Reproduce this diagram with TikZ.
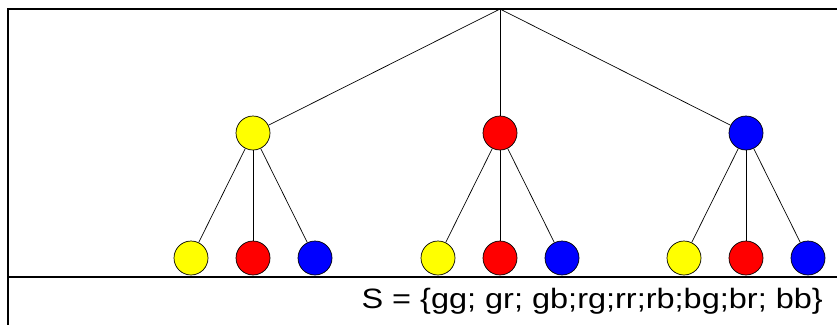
\documentclass[tikz,border=0pt]{standalone}
\usepackage{fontspec}
\newfontfamily\setfont{Liberation Sans}
\usepackage{tikz}
\usetikzlibrary{positioning}
\definecolor{colg}{HTML}{FFFF00}
\definecolor{colr}{HTML}{FF0000}
\definecolor{colb}{HTML}{0000FF}
\tikzset{
  ball/.style={circle, draw=black, line width=0.7pt, minimum size=34pt, inner sep=0pt},
  edge/.style={line width=0.7pt, black},
  frame/.style={line width=1.4pt, black},
  lbl/.style={font=\setfont\fontsize{28}{32}\selectfont, inner sep=0pt}
}
\begin{document}
\begin{tikzpicture}[x=1pt, y=-1pt]
\useasboundingbox (0,0) rectangle (837,325);
% frame
\draw[frame] (837,9) -- (8,9) -- (8,325);
\draw[frame] (8,277) -- (837,277);
% tree
\coordinate (top) at (500,9);
\foreach \p/\x in {g/253, r/500, b/746} {
  \node[ball, fill=col\p] (\p) at (\x,133) {};
  \draw[edge] (top) -- (\p);
  \foreach \q/\dx in {g/-62, r/0, b/62} {
    \node[ball, fill=col\q] (\p\q) at (\x+\dx,258) {};
    \draw[edge] (\p) -- (\p\q);
  }
}
% sample space
\node[lbl, anchor=east] (space) at (823,301) {\scalebox{1.16}[1]{S = \{gg; gr; gb;rg;rr;rb;bg;br; bb\}}};
\end{tikzpicture}
\end{document}
